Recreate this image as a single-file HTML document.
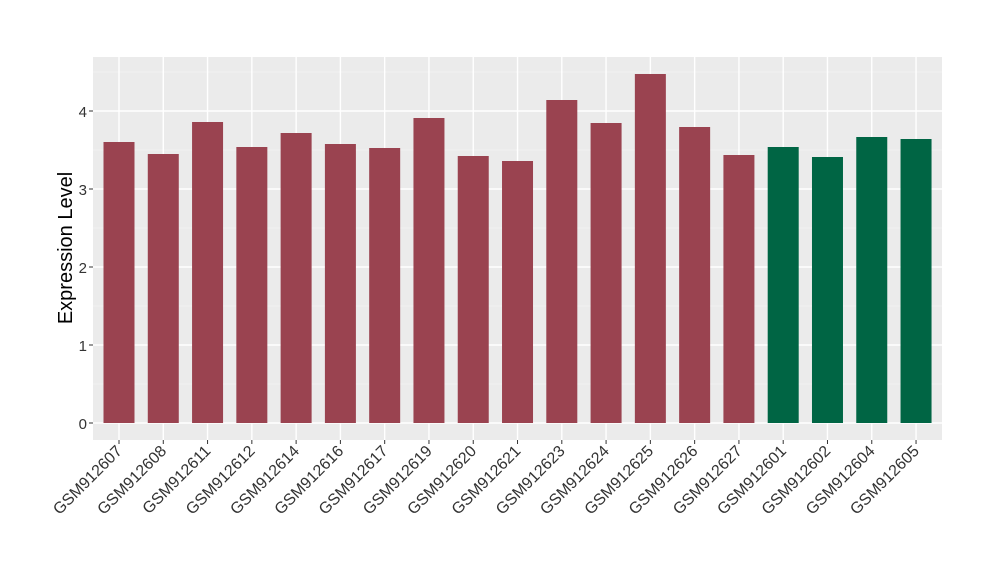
<!DOCTYPE html>
<html><head><style>body{margin:0;background:#fff}</style></head><body>
<svg width="1000" height="580" xmlns="http://www.w3.org/2000/svg" font-family="Liberation Sans, sans-serif">
<rect x="93" y="57" width="849" height="383" fill="#EBEBEB"/>
<g stroke="#F5F5F5" stroke-width="0.8">
<line x1="93" x2="942" y1="384" y2="384"/><line x1="93" x2="942" y1="306" y2="306"/><line x1="93" x2="942" y1="228" y2="228"/><line x1="93" x2="942" y1="150" y2="150"/><line x1="93" x2="942" y1="72" y2="72"/>
</g>
<g stroke="#FFFFFF" stroke-width="1.4" id="g"></g>
<g id="b"></g>
<g id="t" font-size="16" fill="#333"></g>
<g font-size="15" fill="#333" text-anchor="end">
<text x="87" y="429">0</text><text x="87" y="351">1</text><text x="87" y="273">2</text><text x="87" y="195">3</text><text x="87" y="117">4</text>
</g>
<g stroke="#333" stroke-width="1"><line x1="89" x2="93" y1="423" y2="423"/><line x1="89" x2="93" y1="345" y2="345"/><line x1="89" x2="93" y1="267" y2="267"/><line x1="89" x2="93" y1="189" y2="189"/><line x1="89" x2="93" y1="111" y2="111"/></g>
<text transform="translate(72,248) rotate(-90)" font-size="20" text-anchor="middle" fill="#000">Expression Level</text>
</svg>
<script>
var ns="http://www.w3.org/2000/svg";
var names=["GSM912607","GSM912608","GSM912611","GSM912612","GSM912614","GSM912616","GSM912617","GSM912619","GSM912620","GSM912621","GSM912623","GSM912624","GSM912625","GSM912626","GSM912627","GSM912601","GSM912602","GSM912604","GSM912605"];
var tops=[142,154,122,147,133,144,148,118,156,161,100,123,74,127,155,147,157,137,139];
var g=document.getElementById("g"),b=document.getElementById("b"),t=document.getElementById("t");
[423,345,267,189,111].forEach(function(y){var l=document.createElementNS(ns,"line");l.setAttribute("x1",93);l.setAttribute("x2",942);l.setAttribute("y1",y);l.setAttribute("y2",y);g.appendChild(l);});
names.forEach(function(n,i){
 var cx=119+i*44.28;
 var l=document.createElementNS(ns,"line");l.setAttribute("x1",cx);l.setAttribute("x2",cx);l.setAttribute("y1",57);l.setAttribute("y2",440);g.appendChild(l);
 var r=document.createElementNS(ns,"rect");r.setAttribute("x",cx-15.5);r.setAttribute("width",31);r.setAttribute("y",tops[i]);r.setAttribute("height",423-tops[i]);r.setAttribute("fill",i<15?"#9A4350":"#006544");b.appendChild(r);
 var k=document.createElementNS(ns,"line");k.setAttribute("x1",cx);k.setAttribute("x2",cx);k.setAttribute("y1",440);k.setAttribute("y2",444);k.setAttribute("stroke","#333");t.appendChild(k);
 var tx=document.createElementNS(ns,"text");tx.setAttribute("text-anchor","end");tx.setAttribute("transform","translate("+(cx+4)+",452) rotate(-45)");tx.textContent=n;t.appendChild(tx);
});
</script>
</body></html>
